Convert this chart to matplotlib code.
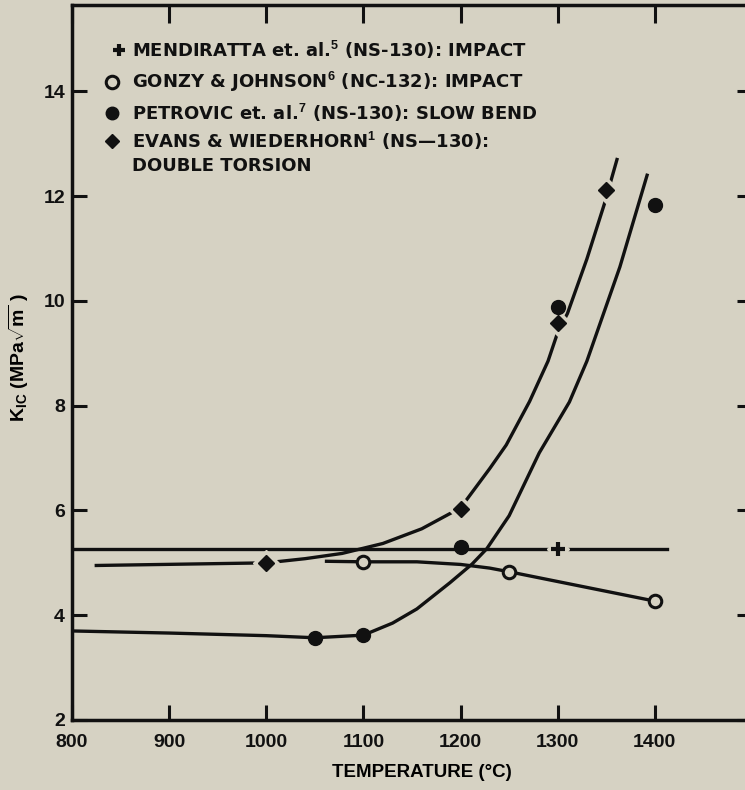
"""
K_IC vs temperature for hot-pressed Si3N4, redrawn from a scanned figure.
"""

import matplotlib

matplotlib.use("Agg")
import matplotlib.pyplot as plt
from matplotlib.lines import Line2D

PAPER = "#d6d2c3"
INK = "#111111"

plt.rcParams["font.family"] = ["Liberation Sans", "DejaVu Sans"]
plt.rcParams["font.weight"] = "bold"
plt.rcParams["mathtext.fontset"] = "custom"
plt.rcParams["mathtext.rm"] = "Liberation Sans:bold"
plt.rcParams["mathtext.it"] = "Liberation Sans:bold"
plt.rcParams["mathtext.bf"] = "Liberation Sans:bold"

HEAVY = ["DejaVu Sans", "Liberation Sans"]

# measured points
mend_x = [1300]
mend_y = [5.27]
gonzy_x = [1100, 1250, 1400]
gonzy_y = [5.02, 4.83, 4.27]
petro_x = [1050, 1100, 1200, 1300, 1400]
petro_y = [3.57, 3.62, 5.31, 9.89, 11.83]
evans_x = [1000, 1200, 1300, 1350]
evans_y = [5.0, 6.03, 9.58, 12.12]

# hand-drawn curves
mend_line_x = [800, 1412]
mend_line_y = [5.27, 5.27]
gonzy_line_x = [1062, 1100, 1155, 1200, 1230, 1250, 1400]
gonzy_line_y = [5.03, 5.02, 5.02, 4.97, 4.9, 4.83, 4.27]
petro_line_x = [800, 900, 1000, 1050, 1100, 1130, 1155, 1189, 1212, 1227,
                1250, 1281, 1312, 1330, 1364, 1392]
petro_line_y = [3.70, 3.66, 3.61, 3.57, 3.62, 3.85, 4.12, 4.62, 4.98, 5.27,
                5.9, 7.1, 8.07, 8.85, 10.65, 12.4]
evans_flat_x = [825, 1000]
evans_flat_y = [4.95, 5.0]
evans_line_x = [1000, 1040, 1078, 1120, 1160, 1200, 1230, 1247, 1271, 1290,
                1300, 1310, 1330, 1348, 1361]
evans_line_y = [5.0, 5.08, 5.18, 5.37, 5.65, 6.05, 6.8, 7.25, 8.08, 8.85,
                9.4, 9.76, 10.8, 11.85, 12.7]

x_ticks = [800, 900, 1000, 1100, 1200, 1300, 1400]
y_ticks = [2, 4, 6, 8, 10, 12, 14]

legend_rows = [
    ("+", "MENDIRATTA et. al.$^{5}$ (NS-130): IMPACT"),
    ("o", "GONZY & JOHNSON$^{6}$ (NC-132): IMPACT"),
    ("•", "PETROVIC et. al.$^{7}$ (NS-130): SLOW BEND"),
    ("D", "EVANS & WIEDERHORN$^{1}$ (NS\u2014130):"),
    (None, "DOUBLE TORSION"),
]

W, H = 745, 790
fig = plt.figure(figsize=(W / 100, H / 100), dpi=100, facecolor=PAPER)
ax = fig.add_axes([72 / W, 70 / H, 680 / W, 715 / H], facecolor=PAPER)

lw = 2.4
ax.plot(mend_line_x, mend_line_y, color=INK, lw=lw, zorder=2)
ax.plot(gonzy_line_x, gonzy_line_y, color=INK, lw=lw, zorder=2)
ax.plot(petro_line_x, petro_line_y, color=INK, lw=lw, zorder=2)
ax.plot(evans_flat_x, evans_flat_y, color=INK, lw=lw, zorder=2)
ax.plot(evans_line_x, evans_line_y, color=INK, lw=lw, zorder=2)

# paper-coloured halos give the little gaps round the hand-drawn symbols
ax.plot(evans_x, evans_y, ls="none", marker="D", ms=13, color=PAPER, zorder=3)
ax.plot(mend_x, mend_y, ls="none", marker="D", ms=11, color=PAPER, zorder=3)

ax.plot(mend_x, mend_y, ls="none", marker="+", ms=10, mew=3, color=INK, zorder=4)
ax.plot(evans_x, evans_y, ls="none", marker="D", ms=8, color=INK, zorder=4)
ax.plot(gonzy_x, gonzy_y, ls="none", marker="o", ms=9, mew=2.2, mfc=PAPER,
        mec=INK, zorder=5)
ax.plot(petro_x, petro_y, ls="none", marker="o", ms=10, color=INK, zorder=5)

ax.set_xlim(800, 1500)
ax.set_ylim(2, 15.65)
ax.set_xticks(x_ticks)
ax.set_yticks(y_ticks)
ax.set_xticklabels([str(t) for t in x_ticks], fontsize=14)
ax.set_yticklabels([str(t) for t in y_ticks], fontsize=14)

for s in ax.spines.values():
    s.set_linewidth(2.5)
    s.set_color(INK)

ax.tick_params(direction="in", length=11, width=2.2, colors=INK,
               top=True, right=True, pad=5)
ax.tick_params(axis="x", pad=10)
for t in ax.xaxis.get_major_ticks():
    t.tick2line.set_markersize(13)

ax.set_xlabel("TEMPERATURE (°C)", fontsize=13.5, fontweight="bold")
ax.xaxis.set_label_coords(0.515, -0.062)
ax.set_ylabel(r"K$_{\rm IC}$ (MPa$\sqrt{\rm m}$ )", fontsize=14, fontweight="bold")
ax.yaxis.set_label_coords(-0.06, 0.507)

# legend written straight onto the plot, as in the original
row_y = [50, 82, 113, 141, 166]
for (mk, label), py in zip(legend_rows, row_y):
    fy = 1 - py / H
    if mk == "+":
        fig.add_artist(Line2D([119 / W], [fy], marker="+", ms=9, mew=3, color=INK))
    elif mk == "o":
        fig.add_artist(Line2D([112 / W], [fy], marker="o", ms=9, mew=2.2,
                              mfc=PAPER, mec=INK))
    elif mk == "•":
        fig.add_artist(Line2D([112 / W], [fy], marker="o", ms=9, color=INK))
    elif mk == "D":
        fig.add_artist(Line2D([112 / W], [fy], marker="D", ms=7.5, color=INK))
    fig.text(132 / W, fy, label, fontsize=13, fontweight="bold", color=INK,
             family=HEAVY, va="center", ha="left")

plt.savefig("out.png", dpi=100, facecolor=PAPER)
plt.close()
